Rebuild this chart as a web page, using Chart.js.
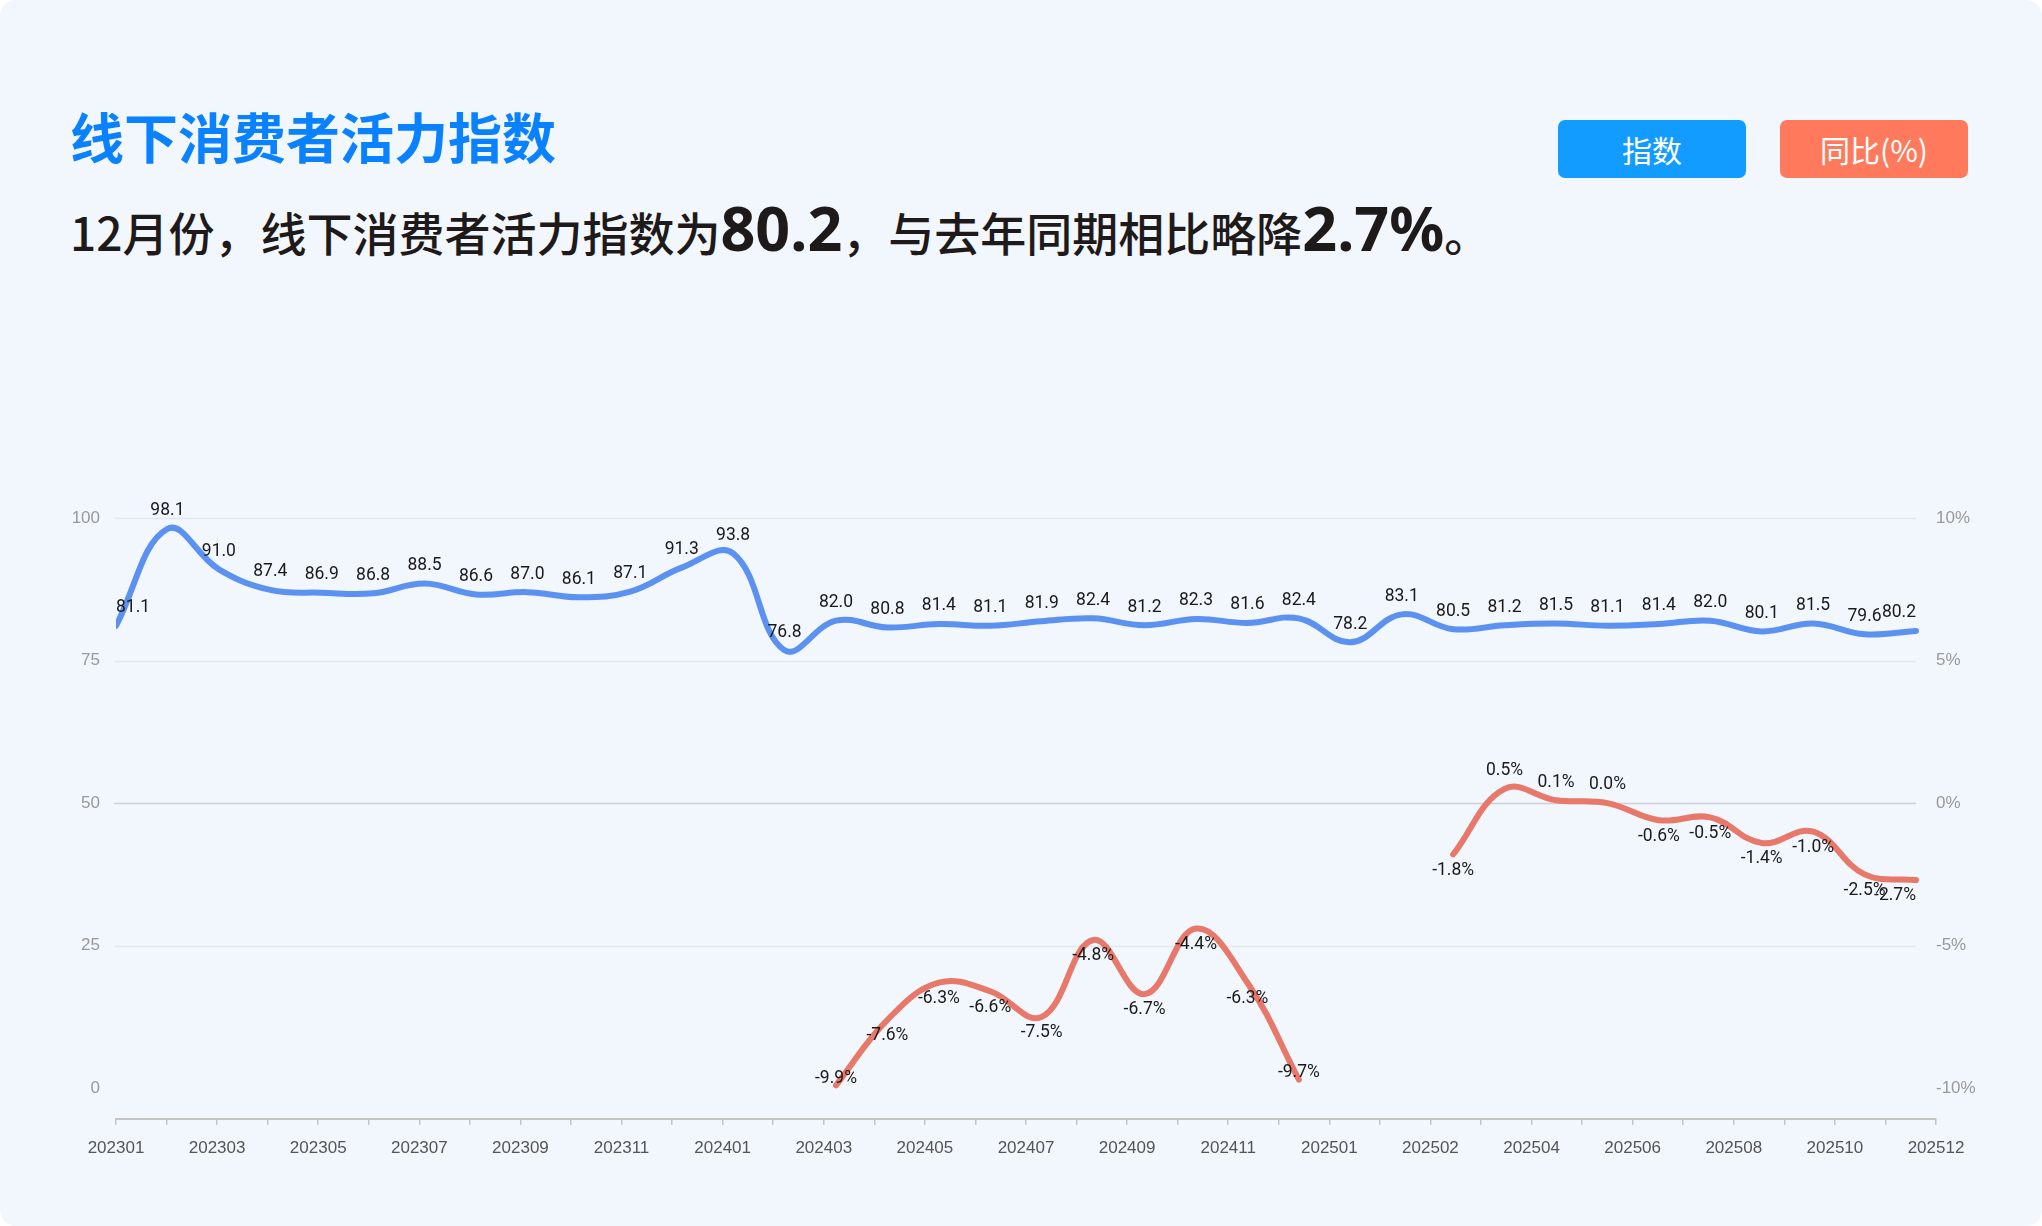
<!DOCTYPE html>
<html>
<head>
<meta charset="utf-8">
<script src="https://cdn.jsdelivr.net/npm/chart.js@4.4.1/dist/chart.umd.min.js"></script>
<style>
  html, body { margin:0; padding:0; background:#ffffff; }
  body { width:2042px; height:1226px; position:relative; overflow:hidden; font-family:"Noto Sans CJK SC","Noto Sans",sans-serif; }
  #card { position:absolute; left:0; top:0; width:2042px; height:1226px; border-radius:16px; background:#f2f6fd; }
  #title { position:absolute; left:70px; top:109px; font-size:54px; line-height:1; font-weight:700; color:#0a82ff; letter-spacing:0px; white-space:nowrap; }
  #sub { position:absolute; left:70px; top:192px; font-size:46px; line-height:72px; font-weight:500; color:#1f1a1a; white-space:nowrap; }
  #sub b { font-size:61px; font-weight:700; font-family:"Noto Sans","Noto Sans CJK SC",sans-serif; }
  .badge { position:absolute; top:120px; width:188px; height:58px; border-radius:7px; color:#fff; font-size:30px; line-height:58px; text-align:center; font-weight:400; }
  #b1 { left:1558px; background:#139cff; }
  #b2 { left:1780px; background:#ff7a5c; }
  canvas { position:absolute; left:0; top:0; }
</style>
</head>
<body>
<div id="card"></div>
<div id="title">线下消费者活力指数</div>
<div id="sub">12月份，线下消费者活力指数为<b>80.2</b>，与去年同期相比略降<b>2.7%</b>。</div>
<div class="badge" id="b1">指数</div>
<div class="badge" id="b2">同比(%)</div>
<canvas id="c" width="2042" height="1226"></canvas>
<script>
const months = ['202301','202302','202303','202304','202305','202306','202307','202308','202309','202310','202311','202312',
  '202401','202402','202403','202404','202405','202406','202407','202408','202409','202410','202411','202412',
  '202501','202502','202503','202504','202505','202506','202507','202508','202509','202510','202511','202512'];
const indexValues = [81.1,98.1,91.0,87.4,86.9,86.8,88.5,86.6,87.0,86.1,87.1,91.3,
  93.8,76.8,82.0,80.8,81.4,81.1,81.9,82.4,81.2,82.3,81.6,82.4,
  78.2,83.1,80.5,81.2,81.5,81.1,81.4,82.0,80.1,81.5,79.6,80.2];
const yoyValues = [null,null,null,null,null,null,null,null,null,null,null,null,
  null,null,-9.9,-7.6,-6.3,-6.6,-7.5,-4.8,-6.7,-4.4,-6.3,-9.7,
  null,null,-1.8,0.5,0.1,0.0,-0.6,-0.5,-1.4,-1.0,-2.5,-2.7];
const xTickLabels = ['202301','202303','202305','202307','202309','202311','202401','202403','202405','202407','202409','202411',
  '202501','202502','202504','202506','202508','202510','202512'];
const leftTicks = [0,25,50,75,100];
const rightTicks = [-10,-5,0,5,10];

const lastIdx = months.length - 1;
const xMax = lastIdx * 1820 / 1800;
const nTicks = (xTickLabels.length - 1) * 2;

const toPts = arr => arr.map((v,i) => ({x:i, y:v}));

const gridPlugin = {
  id:'grid',
  beforeDatasetsDraw(chart){
    const {ctx, chartArea, scales} = chart;
    const xEnd = scales.x.getPixelForValue(lastIdx);
    ctx.save();
    rightTicks.forEach(v => {
      if (v === -10) return;
      const y = Math.round(scales.y1.getPixelForValue(v)) + 0.5;
      ctx.strokeStyle = v === 0 ? '#cdd0d6' : '#e4e8ef';
      ctx.lineWidth = 1.5;
      ctx.beginPath();
      ctx.moveTo(chartArea.left - 2, y);
      ctx.lineTo(xEnd, y);
      ctx.stroke();
    });
    ctx.restore();
  }
};

const labelPlugin = {
  id:'labels',
  afterDatasetsDraw(chart){
    const {ctx, chartArea, scales} = chart;
    const xEnd = scales.x.getPixelForValue(lastIdx);
    ctx.save();
    ctx.font = '17.5px Roboto, "Noto Sans", sans-serif';
    ctx.fillStyle = '#1a1a1a';
    ctx.textAlign = 'center';
    ctx.textBaseline = 'middle';
    chart.data.datasets.forEach((ds, di) => {
      const meta = chart.getDatasetMeta(di);
      ds.data.forEach((p, i) => {
        if (p.y === null) return;
        const el = meta.data[i];
        const txt = di === 0 ? p.y.toFixed(1) : p.y.toFixed(1) + '%';
        const hw = ctx.measureText(txt).width / 2;
        let cx = Math.min(Math.max(el.x, chartArea.left + hw), xEnd - hw);
        let cy;
        if (di === 0 || p.y >= 0) cy = el.y - 18;
        else if (el.y + 40 > chartArea.bottom) cy = el.y - 7;
        else cy = el.y + 16;
        ctx.fillText(txt, cx, cy);
      });
    });
    ctx.restore();
  }
};

new Chart(document.getElementById('c'), {
  type:'line',
  data:{
    datasets:[
      { label:'指数', data:toPts(indexValues), yAxisID:'y', borderColor:'#5b91f0', borderWidth:6,
        pointRadius:0, tension:0.4, borderCapStyle:'round', borderJoinStyle:'round' },
      { label:'同比(%)', data:toPts(yoyValues), yAxisID:'y1', borderColor:'#e8796a', borderWidth:6,
        pointRadius:0, tension:0.4, spanGaps:false, borderCapStyle:'round', borderJoinStyle:'round' }
    ]
  },
  options:{
    responsive:false, animation:false,
    layout:{ padding:{ top:518, left:0, right:0, bottom:0 } },
    plugins:{ legend:{display:false}, tooltip:{enabled:false} },
    scales:{
      x:{
        type:'linear', min:0, max:xMax,
        afterBuildTicks(s){ s.ticks = Array.from({length:nTicks+1}, (_,i) => ({value: i*xMax/nTicks})); },
        afterFit(s){ s.height = 107; },
        ticks:{ autoSkip:false, maxRotation:0, padding:13, color:'#555555',
          font:{ size:17, family:'"Liberation Sans", Roboto, sans-serif' },
          callback(v, i){ return i % 2 === 0 ? xTickLabels[i/2] : ''; } },
        grid:{ drawOnChartArea:false, drawTicks:true, tickLength:6, color:'#c4c4c4', lineWidth:1.5 },
        border:{ display:true, color:'#c4c4c4', width:2 }
      },
      y:{
        position:'left', min:-5.4, max:100,
        afterBuildTicks(s){ s.ticks = leftTicks.map(v => ({value:v})); },
        afterFit(s){ s.width = 116; },
        ticks:{ padding:16, color:'#999999', font:{ size:17, family:'"Liberation Sans", Roboto, sans-serif' } },
        grid:{ display:false, drawTicks:false },
        border:{ display:false }
      },
      y1:{
        position:'right', min:-11.08, max:10,
        afterBuildTicks(s){ s.ticks = rightTicks.map(v => ({value:v})); },
        afterFit(s){ s.width = 106; },
        ticks:{ padding:0, color:'#999999', font:{ size:17, family:'"Liberation Sans", Roboto, sans-serif' },
          callback(v){ return v + '%'; } },
        grid:{ display:false, drawTicks:false },
        border:{ display:false }
      }
    }
  },
  plugins:[gridPlugin, labelPlugin]
});
</script>
</body>
</html>
